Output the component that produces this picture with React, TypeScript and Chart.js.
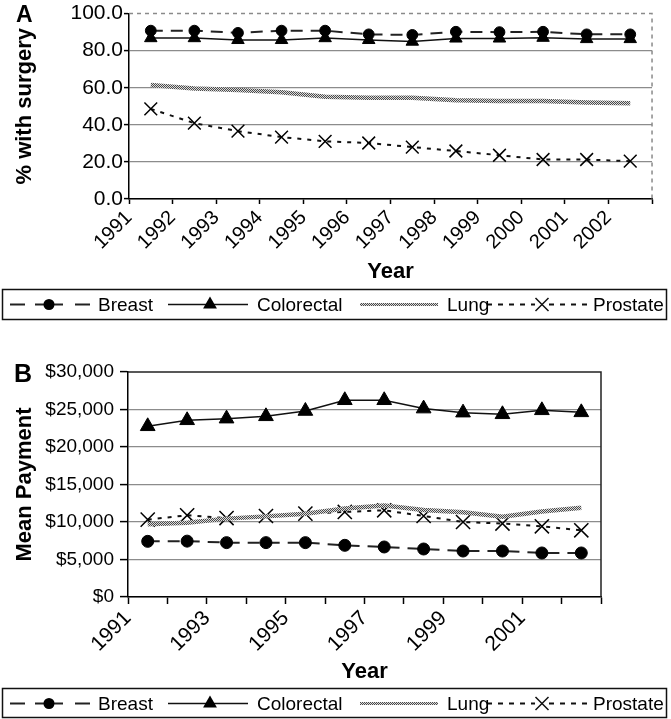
import React, { useEffect, useRef } from 'react';
import { Chart, registerables } from 'chart.js';

Chart.register(...registerables);

// ---------- data ----------
const YEARS = ['1991', '1992', '1993', '1994', '1995', '1996', '1997', '1998', '1999', '2000', '2001', '2002'];
const X_LABELS_A = YEARS;
const X_LABELS_B = ['1991', '', '1993', '', '1995', '', '1997', '', '1999', '', '2001', ''];
const SERIES_NAMES = ['Breast', 'Colorectal', 'Lung', 'Prostate'];

// Panel A: % with surgery
const SURG_BREAST = [90.8, 90.8, 89.6, 90.8, 90.8, 88.8, 88.5, 90.2, 90.0, 90.2, 88.8, 88.8];
const SURG_COLORECTAL = [86.8, 86.8, 85.8, 85.8, 86.8, 85.8, 84.9, 86.6, 86.6, 87.0, 86.3, 86.3];
const SURG_LUNG = [61.5, 59.6, 58.8, 57.6, 55.2, 54.6, 54.6, 53.2, 52.8, 52.8, 52.0, 51.6];
const SURG_PROSTATE = [48.6, 40.9, 36.6, 33.4, 31.1, 30.2, 28.0, 25.9, 23.6, 21.3, 21.3, 20.4];

// Panel B: mean payment
const PAY_BREAST = [7420, 7450, 7250, 7250, 7250, 6890, 6670, 6400, 6130, 6130, 5870, 5870];
const PAY_COLORECTAL = [22760, 23560, 23780, 24090, 24800, 26230, 26230, 25120, 24580, 24360, 24890, 24620];
const PAY_LUNG = [9700, 9900, 10450, 10750, 11100, 11800, 12200, 11600, 11300, 10700, 11400, 11900];
const PAY_PROSTATE = [10320, 10890, 10530, 10800, 11120, 11340, 11560, 10800, 10000, 9790, 9430, 8890];

const FONT = "'Liberation Sans', Arial, sans-serif";

function lungPattern(): any {
  const c = document.createElement('canvas');
  c.width = 2;
  c.height = 2;
  const g = c.getContext('2d');
  if (!g) return '#888';
  g.fillStyle = '#dcdcdc';
  g.fillRect(0, 0, 2, 2);
  g.fillStyle = '#4a4a4a';
  g.fillRect(0, 0, 1, 1);
  g.fillRect(1, 1, 1, 1);
  return g.createPattern(c, 'repeat') || '#888';
}

function pts(arr: number[]) {
  return arr.map((v, i) => ({ x: i + 0.5, y: v }));
}

function makeDatasets(breast: number[], colorectal: number[], lung: number[], prostate: number[], big: boolean) {
  return [
    {
      label: SERIES_NAMES[0], data: pts(breast), borderColor: '#222', borderWidth: 2, borderDash: [12, 8],
      pointStyle: 'circle', pointRadius: big ? 6 : 5.4, pointBackgroundColor: '#000', pointBorderColor: '#000', pointBorderWidth: 1,
    },
    {
      label: SERIES_NAMES[1], data: pts(colorectal), borderColor: '#111', borderWidth: 1.5,
      pointStyle: 'triangle', pointRadius: big ? 8.5 : 7.2, pointBackgroundColor: '#000', pointBorderColor: '#000', pointBorderWidth: 1,
    },
    {
      label: SERIES_NAMES[2], data: pts(lung), borderColor: lungPattern(), borderWidth: 4.5, pointRadius: 0,
    },
    {
      label: SERIES_NAMES[3], data: pts(prostate), borderColor: '#111', borderWidth: 2, borderDash: [4, 6],
      pointStyle: 'crossRot', pointRadius: big ? 10 : 9, pointBackgroundColor: '#000', pointBorderColor: '#000', pointBorderWidth: 1.5,
    },
  ];
}

function drawLegend(ctx: CanvasRenderingContext2D, top: number, bottom: number) {
  const cy = Math.round((top + bottom) / 2) + 0.5;
  ctx.save();
  ctx.strokeStyle = '#111';
  ctx.lineWidth = 1.5;
  ctx.setLineDash([]);
  ctx.strokeRect(2.5, top + 0.5, 664, bottom - top);

  const seg = (x1: number, x2: number) => {
    ctx.beginPath();
    ctx.moveTo(x1, cy);
    ctx.lineTo(x2, cy);
    ctx.stroke();
  };

  // Breast
  ctx.strokeStyle = '#222';
  ctx.lineWidth = 2;
  seg(10, 25); seg(35, 63); seg(75, 90);
  ctx.fillStyle = '#000';
  ctx.beginPath(); ctx.arc(49, cy, 5.5, 0, Math.PI * 2); ctx.fill();

  // Colorectal
  ctx.lineWidth = 1.5;
  ctx.strokeStyle = '#111';
  seg(168, 248);
  const r = 8;
  ctx.beginPath();
  ctx.moveTo(210, cy - r);
  ctx.lineTo(210 + r * 0.866, cy + r * 0.5);
  ctx.lineTo(210 - r * 0.866, cy + r * 0.5);
  ctx.closePath();
  ctx.fill();

  // Lung
  ctx.strokeStyle = lungPattern();
  ctx.lineWidth = 3;
  seg(360, 438);

  // Prostate
  ctx.strokeStyle = '#111';
  ctx.lineWidth = 2;
  ctx.setLineDash([5, 6]);
  seg(487, 535);
  seg(549, 587);
  ctx.setLineDash([]);
  ctx.lineWidth = 1.5;
  const d = 6.5;
  ctx.beginPath();
  ctx.moveTo(542 - d, cy - d); ctx.lineTo(542 + d, cy + d);
  ctx.moveTo(542 + d, cy - d); ctx.lineTo(542 - d, cy + d);
  ctx.stroke();

  ctx.fillStyle = '#000';
  ctx.font = `19px ${FONT}`;
  ctx.textBaseline = 'middle';
  ctx.textAlign = 'left';
  ctx.fillText(SERIES_NAMES[0], 98, cy + 1);
  ctx.fillText(SERIES_NAMES[1], 257, cy + 1);
  ctx.fillText(SERIES_NAMES[2], 447, cy + 1);
  ctx.fillText(SERIES_NAMES[3], 593, cy + 1);
  ctx.restore();
}

function makeConfig(panel: 'A' | 'B'): any {
  const isA = panel === 'A';
  const datasets = isA
    ? makeDatasets(SURG_BREAST, SURG_COLORECTAL, SURG_LUNG, SURG_PROSTATE, false)
    : makeDatasets(PAY_BREAST, PAY_COLORECTAL, PAY_LUNG, PAY_PROSTATE, true);
  const xLabels = isA ? X_LABELS_A : X_LABELS_B;
  const yMax = isA ? 100 : 30000;

  const framePlugin = {
    id: 'frame' + panel,
    beforeDatasetsDraw(chart: any) {
      const { ctx, chartArea: a } = chart;
      ctx.save();
      if (isA) {
        ctx.strokeStyle = '#8a8a8a';
        ctx.lineWidth = 1.5;
        ctx.setLineDash([4, 4]);
      } else {
        ctx.strokeStyle = '#222';
        ctx.lineWidth = 1.5;
      }
      ctx.beginPath();
      ctx.moveTo(a.left, a.top);
      ctx.lineTo(a.right, a.top);
      ctx.lineTo(a.right, a.bottom);
      ctx.stroke();
      ctx.restore();
    },
    afterDraw(chart: any) {
      const { ctx } = chart;
      ctx.save();
      ctx.fillStyle = '#000';
      ctx.textBaseline = 'alphabetic';
      ctx.textAlign = 'left';
      if (isA) {
        ctx.font = `bold 23px ${FONT}`;
        ctx.fillText('A', 16, 22);
        drawLegend(ctx, 289, 319);
      } else {
        ctx.font = `bold 25px ${FONT}`;
        ctx.fillText('B', 14, 60);
        drawLegend(ctx, 366, 395);
      }
      ctx.restore();
    },
  };

  return {
    type: 'line',
    data: { datasets },
    plugins: [framePlugin],
    options: {
      responsive: false,
      animation: false,
      events: [],
      layout: { padding: isA ? { top: 12, right: 8, bottom: 36, left: 0 } : { top: 50, right: 70, bottom: 33, left: 0 } },
      plugins: { legend: { display: false }, tooltip: { enabled: false } },
      elements: { line: { tension: 0 } },
      scales: {
        x: {
          type: 'linear',
          min: 0,
          max: 12,
          afterFit: (s: any) => { s.height = isA ? 87 : 89; },
          ticks: {
            stepSize: 1,
            autoSkip: false,
            minRotation: 45,
            maxRotation: 45,
            padding: 2,
            color: '#000',
            font: { family: FONT, size: isA ? 20 : 21 },
            callback: (v: any) => xLabels[Math.round(Number(v))] ?? '',
          },
          grid: { drawOnChartArea: false, tickLength: isA ? 5 : 7, tickColor: '#000', tickWidth: 1.5 },
          border: { color: '#000', width: 1.5 },
          title: {
            display: true, text: 'Year', color: '#000',
            font: { family: FONT, size: 22, weight: 'bold' },
            padding: { top: 0, bottom: 1 },
          },
        },
        y: {
          min: 0,
          max: yMax,
          afterFit: (s: any) => { s.width = isA ? 129 : 128; },
          ticks: {
            stepSize: isA ? 20 : 5000,
            padding: isA ? 1 : 6,
            color: '#000',
            font: { family: FONT, size: isA ? 21 : 19 },
            callback: (v: any) => isA ? Number(v).toFixed(1) : '$' + Number(v).toLocaleString('en-US'),
          },
          grid: {
            color: (c: any) => (c.tick && c.tick.value === yMax ? 'rgba(0,0,0,0)' : '#8c8c8c'),
            lineWidth: 1.2,
            tickLength: isA ? 5 : 8,
            tickColor: '#000',
            tickWidth: 1.5,
          },
          border: { color: '#000', width: 1.5 },
          title: {
            display: true, text: isA ? '% with surgery' : 'Mean Payment', color: '#000',
            font: { family: FONT, size: 22, weight: 'bold' },
            padding: { top: 12, bottom: 0 },
          },
        },
      },
    },
  };
}

function Panel({ panel, width, height }: { panel: 'A' | 'B'; width: number; height: number }) {
  const ref = useRef<HTMLCanvasElement | null>(null);
  useEffect(() => {
    if (!ref.current) return;
    const chart = new Chart(ref.current, makeConfig(panel));
    return () => chart.destroy();
  }, [panel]);
  return <canvas ref={ref} width={width} height={height} style={{ display: 'block', width, height }} />;
}

export default function App() {
  return (
    <div style={{ position: 'absolute', left: 0, top: 0, width: 671, height: 719, background: '#fff' }}>
      <Panel panel="A" width={671} height={322} />
      <Panel panel="B" width={671} height={397} />
    </div>
  );
}
